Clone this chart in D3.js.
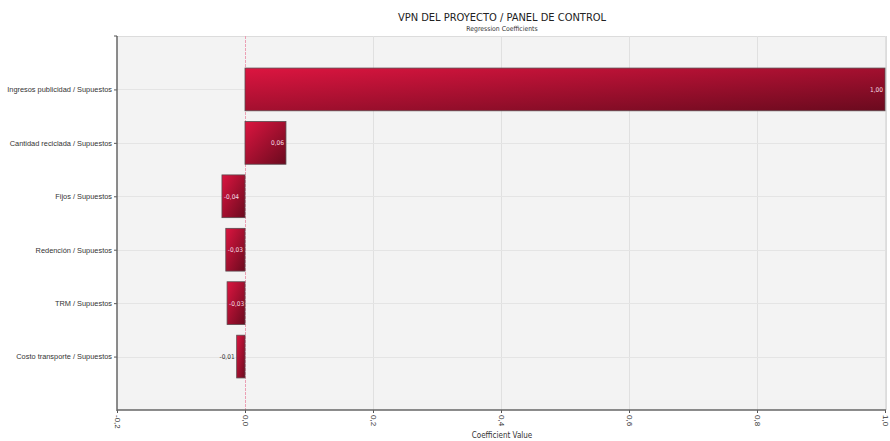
<!DOCTYPE html>
<html>
<head>
<meta charset="utf-8">
<script src="https://cdn.jsdelivr.net/npm/d3@7"></script>
<style>
  html, body { margin: 0; padding: 0; background: #ffffff; }
  svg { display: block; font-family: "DejaVu Sans Condensed", "DejaVu Sans", sans-serif; }
</style>
</head>
<body>
<svg id="chart" width="890" height="441"></svg>
<script>
// Regression coefficients of the project NPV against each assumption
const categories = [
  "Ingresos publicidad / Supuestos",
  "Cantidad reciclada / Supuestos",
  "Fijos / Supuestos",
  "Redención / Supuestos",
  "TRM / Supuestos",
  "Costo transporte / Supuestos"
];
const coefficients = [1.00, 0.064, -0.036, -0.030, -0.028, -0.013];
const xTicks = [-0.2, 0.0, 0.2, 0.4, 0.6, 0.8, 1.0];

const titleText = "VPN DEL PROYECTO / PANEL DE CONTROL";
const subtitleText = "Regression Coefficients";
const xAxisTitle = "Coefficient Value";

const svg = d3.select("#chart");
const plot = { left: 117, right: 885, top: 36, bottom: 410 };

const fmt = v => d3.format(".2f")(v).replace(".", ",").replace("−", "-");
const tickFmt = v => d3.format(".1f")(v).replace(".", ",").replace("−", "-");

const x = d3.scaleLinear().domain([-0.2, 1.0]).range([plot.left, plot.right]);
const y = d3.scalePoint().domain(categories).range([plot.top, plot.bottom]).padding(1);
const barH = y.step() * 0.8;

// diagonal bar shading
const defs = svg.append("defs");
const grad = defs.append("linearGradient").attr("id", "barFill")
  .attr("x1", 0).attr("y1", 0).attr("x2", 1).attr("y2", 1);
grad.append("stop").attr("offset", "0%").attr("stop-color", "#dc1540");
grad.append("stop").attr("offset", "100%").attr("stop-color", "#6a0a1e");

// plot background
svg.append("rect")
  .attr("x", plot.left).attr("y", plot.top)
  .attr("width", plot.right - plot.left + 1).attr("height", plot.bottom - plot.top)
  .attr("fill", "#f3f3f3");
svg.append("line")
  .attr("x1", plot.left).attr("x2", plot.right + 1)
  .attr("y1", plot.top + 0.5).attr("y2", plot.top + 0.5)
  .attr("stroke", "#dcdcdc");
svg.append("line")
  .attr("x1", plot.right + 1.5).attr("x2", plot.right + 1.5)
  .attr("y1", plot.top).attr("y2", plot.bottom)
  .attr("stroke", "#dcdcdc");

// grid lines
svg.append("g").selectAll("line").data(xTicks.filter(t => t !== 0 && t !== -0.2)).join("line")
  .attr("x1", d => Math.round(x(d)) + 0.5).attr("x2", d => Math.round(x(d)) + 0.5)
  .attr("y1", plot.top).attr("y2", plot.bottom)
  .attr("stroke", "#e0e0e0");
svg.append("g").selectAll("line").data(categories).join("line")
  .attr("x1", plot.left).attr("x2", plot.right)
  .attr("y1", d => Math.round(y(d)) + 0.5).attr("y2", d => Math.round(y(d)) + 0.5)
  .attr("stroke", "#e4e4e4");

// zero reference line
svg.append("line")
  .attr("x1", Math.round(x(0)) + 0.5).attr("x2", Math.round(x(0)) + 0.5)
  .attr("y1", plot.top).attr("y2", plot.bottom)
  .attr("stroke", "#eba0b4").attr("stroke-dasharray", "3,1");

// bars
const data = categories.map((c, i) => ({ c, v: coefficients[i] }));
svg.append("g").selectAll("rect").data(data).join("rect")
  .attr("x", d => x(Math.min(0, d.v)))
  .attr("y", d => y(d.c) - barH / 2)
  .attr("width", d => Math.abs(x(d.v) - x(0)))
  .attr("height", barH)
  .attr("fill", "url(#barFill)")
  .attr("stroke", "#5a4a4e").attr("stroke-width", 0.8);

// value labels
const narrow = d => Math.abs(x(d.v) - x(0)) < 14;
svg.append("g").selectAll("text").data(data).join("text")
  .attr("x", d => narrow(d) ? x(d.v) - 2 : (d.v >= 0 ? x(d.v) - 2 : x(d.v) + 2))
  .attr("text-anchor", d => narrow(d) ? "end" : (d.v >= 0 ? "end" : "start"))
  .attr("y", d => y(d.c) + 2.5)
  .attr("font-size", 6.5)
  .attr("fill", d => narrow(d) ? "#333" : "#f4dde2")
  .text(d => fmt(d.v));

// left axis
const yAxis = svg.append("g").attr("transform", `translate(${plot.left},0)`)
  .call(d3.axisLeft(y).tickSize(3).tickPadding(2));
yAxis.select(".domain").remove();
yAxis.selectAll(".tick line").attr("stroke", "#555");
yAxis.selectAll(".tick text").attr("font-size", 7.4).attr("fill", "#333");
svg.append("line")
  .attr("x1", plot.left).attr("x2", plot.left)
  .attr("y1", plot.top).attr("y2", plot.bottom + 1)
  .attr("stroke", "#666").attr("stroke-width", 1.5);
svg.append("line")
  .attr("x1", plot.left - 3).attr("x2", plot.left)
  .attr("y1", plot.top).attr("y2", plot.top)
  .attr("stroke", "#555");

// bottom axis
const xAxis = svg.append("g").attr("transform", `translate(0,${plot.bottom})`)
  .call(d3.axisBottom(x).tickValues(xTicks).tickFormat(tickFmt).tickSize(3).tickPadding(2));
xAxis.select(".domain").remove();
xAxis.selectAll(".tick line").attr("stroke", "#555");
xAxis.selectAll(".tick text")
  .attr("font-size", 8).attr("fill", "#333")
  .attr("transform", "rotate(90)")
  .attr("text-anchor", "start")
  .attr("x", 5).attr("y", 0).attr("dy", "0.35em");
svg.append("line")
  .attr("x1", plot.left).attr("x2", plot.right + 1)
  .attr("y1", plot.bottom).attr("y2", plot.bottom)
  .attr("stroke", "#666").attr("stroke-width", 1.5);

// titles
const cx = (plot.left + plot.right) / 2 + 1;
svg.append("text").attr("x", cx).attr("y", 21)
  .attr("text-anchor", "middle").attr("font-size", 11).attr("fill", "#222")
  .text(titleText);
svg.append("text").attr("x", cx).attr("y", 31)
  .attr("text-anchor", "middle").attr("font-size", 6.8).attr("fill", "#333")
  .text(subtitleText);
svg.append("text").attr("x", cx).attr("y", 438)
  .attr("text-anchor", "middle").attr("font-size", 8).attr("fill", "#333")
  .text(xAxisTitle);
</script>
</body>
</html>
